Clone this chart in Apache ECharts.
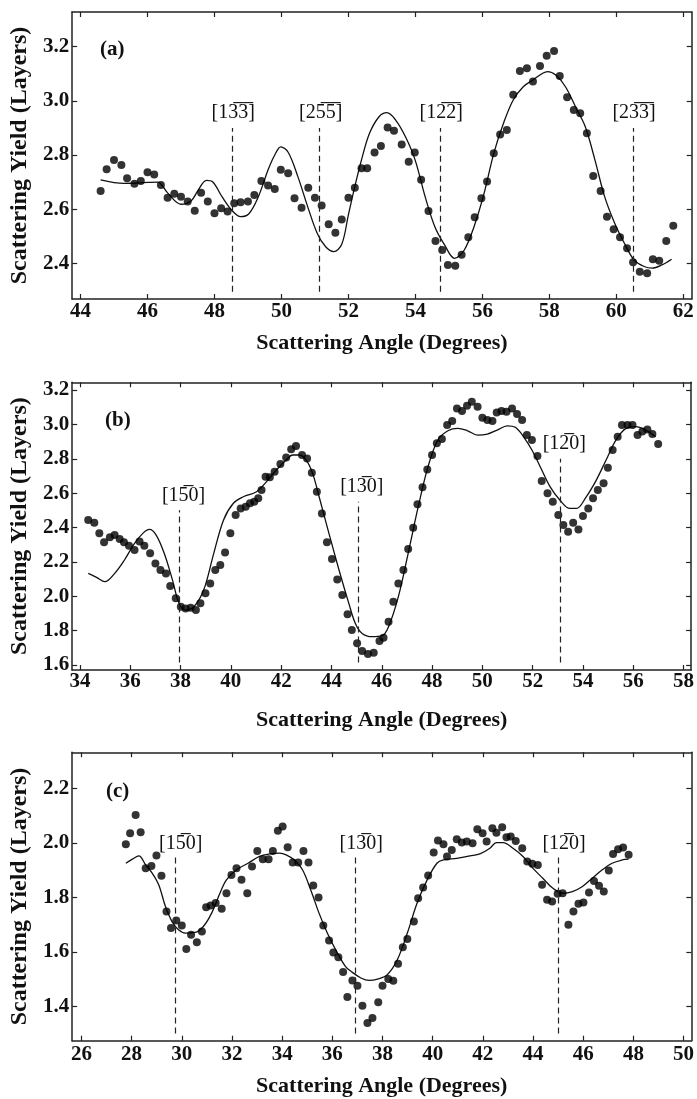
<!DOCTYPE html>
<html><head><meta charset="utf-8">
<script src="https://cdn.jsdelivr.net/npm/echarts@6/dist/echarts.min.js"></script>
<style>html,body{margin:0;padding:0;background:#fff}#c{width:697px;height:1099px}</style>
</head><body><div id="c"></div><script>
// ---------- DATA ----------
const xTitle = 'Scattering Angle (Degrees)';
const yTitle = 'Scattering Yield (Layers)';
const panelLabels = ['(a)', '(b)', '(c)'];

const aXTicks = [44,46,48,50,52,54,56,58,60,62];
const aYTicks = [2.4,2.6,2.8,3.0,3.2];
const bXTicks = [34,36,38,40,42,44,46,48,50,52,54,56,58];
const bYTicks = [1.6,1.8,2.0,2.2,2.4,2.6,2.8,3.0,3.2];
const cXTicks = [26,28,30,32,34,36,38,40,42,44,46,48,50];
const cYTicks = [1.4,1.6,1.8,2.0,2.2];

const aPoints = [[44.6,2.667],[44.78,2.747],[45.0,2.781],[45.22,2.763],[45.39,2.714],[45.61,2.694],[45.8,2.704],[46.0,2.736],[46.2,2.728],[46.4,2.689],[46.6,2.642],[46.8,2.657],[47.0,2.646],[47.2,2.628],[47.41,2.594],[47.6,2.66],[47.8,2.628],[48.0,2.585],[48.2,2.603],[48.39,2.591],[48.59,2.622],[48.78,2.625],[49.0,2.628],[49.19,2.652],[49.4,2.704],[49.6,2.687],[49.8,2.674],[49.98,2.745],[50.2,2.732],[50.39,2.64],[50.6,2.605],[50.8,2.679],[51.0,2.642],[51.2,2.613],[51.41,2.544],[51.61,2.513],[51.8,2.562],[52.0,2.642],[52.19,2.679],[52.39,2.751],[52.56,2.751],[52.78,2.809],[52.97,2.833],[53.17,2.901],[53.36,2.889],[53.59,2.839],[53.8,2.775],[53.98,2.809],[54.17,2.708],[54.39,2.593],[54.6,2.482],[54.8,2.449],[54.97,2.394],[55.19,2.391],[55.38,2.431],[55.58,2.496],[55.77,2.57],[55.97,2.64],[56.14,2.702],[56.34,2.806],[56.53,2.876],[56.73,2.892],[56.92,3.022],[57.12,3.11],[57.33,3.12],[57.51,3.071],[57.72,3.129],[57.92,3.166],[58.14,3.184],[58.31,3.092],[58.53,3.013],[58.73,2.966],[58.92,2.954],[59.12,2.88],[59.31,2.722],[59.53,2.667],[59.72,2.572],[59.92,2.526],[60.11,2.496],[60.32,2.455],[60.5,2.404],[60.7,2.369],[60.92,2.363],[61.09,2.415],[61.28,2.409],[61.49,2.482],[61.7,2.539]];
const aCurve = [[44.6,2.708],[45.3,2.695],[45.8,2.697],[46.3,2.7],[46.6,2.66],[47.0,2.618],[47.3,2.63],[47.5,2.667],[47.76,2.706],[47.95,2.70],[48.24,2.643],[48.53,2.594],[48.78,2.572],[49.02,2.582],[49.3,2.643],[49.61,2.748],[49.8,2.8],[49.98,2.83],[50.2,2.81],[50.49,2.72],[50.78,2.61],[51.07,2.51],[51.32,2.461],[51.56,2.443],[51.8,2.47],[52.0,2.58],[52.19,2.683],[52.39,2.782],[52.63,2.88],[52.92,2.942],[53.15,2.956],[53.41,2.929],[53.7,2.868],[53.99,2.782],[54.29,2.646],[54.58,2.535],[54.87,2.468],[55.17,2.418],[55.46,2.449],[55.75,2.535],[56.05,2.658],[56.34,2.806],[56.63,2.917],[56.92,3.003],[57.22,3.052],[57.51,3.077],[57.8,3.102],[57.95,3.108],[58.19,3.095],[58.48,3.052],[58.78,2.978],[59.07,2.905],[59.36,2.782],[59.65,2.646],[59.95,2.548],[60.24,2.474],[60.53,2.412],[60.83,2.388],[61.07,2.382],[61.36,2.394],[61.65,2.415]];
const aDirX = [48.53, 51.14, 54.74, 60.5];
const aDirTop = [2.9, 2.9, 2.9, 2.9];
const aDirBottom = 2.295;
const aDirLabels = ['[13\u03053\u0305]', '[25\u03055\u0305]', '[12\u03052\u0305]', '[23\u03053\u0305]'];

const bPoints = [[34.33,2.444],[34.57,2.428],[34.77,2.366],[34.96,2.314],[35.19,2.343],[35.38,2.356],[35.58,2.333],[35.75,2.314],[35.95,2.294],[36.17,2.269],[36.37,2.318],[36.56,2.294],[36.79,2.25],[37.0,2.191],[37.2,2.153],[37.42,2.133],[37.59,2.06],[37.81,1.988],[38.01,1.939],[38.2,1.929],[38.4,1.933],[38.61,1.92],[38.79,1.959],[38.99,2.017],[39.18,2.075],[39.38,2.153],[39.58,2.182],[39.77,2.254],[39.98,2.366],[40.19,2.473],[40.39,2.511],[40.59,2.521],[40.76,2.541],[40.93,2.55],[41.09,2.57],[41.22,2.618],[41.38,2.696],[41.55,2.692],[41.74,2.725],[41.97,2.769],[42.2,2.808],[42.4,2.855],[42.59,2.874],[42.83,2.822],[43.03,2.802],[43.22,2.719],[43.42,2.608],[43.62,2.482],[43.82,2.314],[44.02,2.217],[44.23,2.098],[44.43,2.007],[44.64,1.895],[44.81,1.804],[45.02,1.726],[45.22,1.681],[45.45,1.664],[45.68,1.672],[45.91,1.74],[46.07,1.759],[46.27,1.852],[46.46,1.968],[46.66,2.075],[46.86,2.153],[47.05,2.275],[47.25,2.399],[47.42,2.535],[47.62,2.634],[47.81,2.738],[48.0,2.822],[48.19,2.89],[48.39,2.915],[48.6,2.996],[48.8,3.02],[48.99,3.093],[49.19,3.078],[49.39,3.109],[49.58,3.132],[49.81,3.103],[50.0,3.039],[50.2,3.025],[50.4,3.02],[50.57,3.07],[50.76,3.078],[50.96,3.074],[51.18,3.093],[51.38,3.06],[51.58,3.025],[51.77,2.938],[51.97,2.909],[52.19,2.816],[52.36,2.67],[52.59,2.599],[52.8,2.55],[53.02,2.473],[53.22,2.415],[53.41,2.376],[53.61,2.428],[53.82,2.389],[54.0,2.467],[54.21,2.511],[54.4,2.57],[54.59,2.618],[54.82,2.657],[54.99,2.748],[55.18,2.851],[55.38,2.928],[55.55,2.996],[55.77,2.996],[55.97,2.996],[56.17,2.938],[56.36,2.958],[56.56,2.971],[56.76,2.944],[56.99,2.886]];
const bCurve = [[34.33,2.133],[34.66,2.11],[34.99,2.085],[35.38,2.133],[35.77,2.211],[36.17,2.308],[36.5,2.366],[36.76,2.389],[37.03,2.356],[37.35,2.25],[37.68,2.094],[37.94,1.959],[38.2,1.92],[38.53,1.939],[38.92,2.036],[39.32,2.25],[39.71,2.444],[40.1,2.541],[40.5,2.579],[41.02,2.608],[41.42,2.667],[41.81,2.735],[42.2,2.793],[42.46,2.822],[42.72,2.822],[42.99,2.793],[43.25,2.715],[43.51,2.579],[43.9,2.366],[44.3,2.153],[44.69,1.959],[44.95,1.842],[45.22,1.784],[45.61,1.765],[46.0,1.769],[46.27,1.823],[46.66,1.998],[47.05,2.25],[47.45,2.521],[47.84,2.754],[48.23,2.909],[48.63,2.963],[49.02,2.977],[49.41,2.963],[49.81,2.938],[50.2,2.944],[50.59,2.967],[50.99,2.992],[51.31,2.983],[51.64,2.928],[51.97,2.851],[52.3,2.754],[52.69,2.638],[53.08,2.56],[53.48,2.511],[53.74,2.511],[54.13,2.579],[54.53,2.676],[54.92,2.793],[55.31,2.909],[55.71,2.977],[56.1,2.987],[56.49,2.967],[56.89,2.928]];
const bDirX = [37.96, 45.05, 53.1];
const bDirTop = [2.5, 2.55, 2.8];
const bDirBottom = 1.615;
const bDirLabels = ['[15\u03050]', '[13\u03050]', '[12\u03050]'];

const cPoints = [[27.77,1.995],[27.94,2.035],[28.16,2.102],[28.36,2.039],[28.56,1.907],[28.79,1.915],[28.99,1.953],[29.19,1.879],[29.39,1.748],[29.57,1.687],[29.78,1.715],[30.0,1.697],[30.18,1.61],[30.37,1.663],[30.6,1.635],[30.8,1.675],[30.97,1.764],[31.15,1.77],[31.35,1.779],[31.59,1.758],[31.78,1.815],[31.98,1.882],[32.18,1.907],[32.38,1.864],[32.61,1.815],[32.8,1.913],[33.01,1.97],[33.23,1.94],[33.46,1.94],[33.63,1.97],[33.83,2.044],[34.02,2.06],[34.22,1.984],[34.42,1.928],[34.64,1.928],[34.85,1.97],[35.05,1.928],[35.24,1.843],[35.45,1.799],[35.64,1.697],[35.87,1.642],[36.04,1.598],[36.24,1.58],[36.43,1.526],[36.6,1.434],[36.8,1.495],[37.0,1.476],[37.2,1.402],[37.4,1.339],[37.6,1.357],[37.83,1.415],[38.0,1.476],[38.23,1.5],[38.43,1.494],[38.62,1.556],[38.81,1.617],[38.99,1.647],[39.25,1.711],[39.42,1.797],[39.62,1.836],[39.82,1.88],[40.04,1.964],[40.21,2.008],[40.43,1.995],[40.57,1.95],[40.76,1.974],[40.96,2.013],[41.16,2.001],[41.36,2.005],[41.59,1.998],[41.78,2.05],[41.99,2.035],[42.15,2.005],[42.38,2.053],[42.54,2.037],[42.77,2.057],[42.94,2.02],[43.11,2.023],[43.31,2.007],[43.57,1.98],[43.77,1.931],[43.97,1.923],[44.19,1.919],[44.36,1.846],[44.56,1.791],[44.76,1.785],[44.98,1.813],[45.18,1.815],[45.41,1.699],[45.61,1.748],[45.81,1.776],[46.01,1.781],[46.23,1.818],[46.43,1.86],[46.63,1.842],[46.82,1.821],[47.02,1.898],[47.19,1.959],[47.39,1.976],[47.59,1.983],[47.81,1.956]];
const cCurve = [[27.77,1.925],[28.03,1.94],[28.29,1.952],[28.56,1.919],[28.82,1.889],[29.08,1.846],[29.35,1.766],[29.61,1.711],[29.87,1.681],[30.14,1.669],[30.53,1.671],[30.86,1.693],[31.19,1.742],[31.52,1.815],[31.78,1.864],[32.18,1.901],[32.64,1.925],[33.1,1.95],[33.5,1.959],[33.89,1.962],[34.16,1.956],[34.48,1.937],[34.81,1.901],[35.14,1.827],[35.47,1.742],[35.8,1.669],[36.13,1.608],[36.52,1.547],[36.75,1.528],[37.14,1.504],[37.47,1.495],[37.8,1.5],[38.19,1.516],[38.59,1.571],[38.99,1.669],[39.38,1.779],[39.78,1.864],[40.17,1.925],[40.43,1.937],[40.96,1.943],[41.49,1.952],[41.88,1.959],[42.28,1.98],[42.54,2.001],[42.81,2.001],[43.2,1.98],[43.6,1.95],[43.99,1.907],[44.39,1.87],[44.78,1.834],[45.18,1.815],[45.57,1.821],[45.97,1.84],[46.36,1.87],[46.76,1.901],[47.15,1.925],[47.55,1.937],[47.81,1.94]];
const cDirX = [29.72, 36.91, 45.0];
const cDirTop = [1.956, 1.956, 1.956];
const cDirBottom = 1.30;
const cDirLabels = ['[15\u03050]', '[13\u03050]', '[12\u03050]'];

// ---------- LAYOUT / STYLE ----------
const FONT = '"Liberation Serif", "Times New Roman", serif';
const INK = '#111';
const panels = [
  { points: aPoints, curve: aCurve, xTicks: aXTicks, yTicks: aYTicks, dirX: aDirX, dirTop: aDirTop, dirBottom: aDirBottom, dirLabels: aDirLabels,
    grid: { left: 63.3, top: 12, width: 628.4, height: 287 }, xMin: 43.75, xMax: 62.25, yMin: 2.268, yMax: 3.328,
    xLabelMargin: 2, xNameGap: 33, yNameGap: 26, lab: [100, 50], dirDist: 5, dirOff: 1 },
  { points: bPoints, curve: bCurve, xTicks: bXTicks, yTicks: bYTicks, dirX: bDirX, dirTop: bDirTop, dirBottom: bDirBottom, dirLabels: bDirLabels,
    grid: { left: 66, top: 382.3, width: 627.3, height: 287.7 }, xMin: 33.69, xMax: 58.3, yMin: 1.571, yMax: 3.245,
    xLabelMargin: 1, xNameGap: 39, yNameGap: 29, lab: [105, 421], dirDist: 5, dirOff: 4 },
  { points: cPoints, curve: cCurve, xTicks: cXTicks, yTicks: cYTicks, dirX: cDirX, dirTop: cDirTop, dirBottom: cDirBottom, dirLabels: cDirLabels,
    grid: { left: 66.7, top: 752.3, width: 627.3, height: 288.4 }, xMin: 25.63, xMax: 50.31, yMin: 1.274, yMax: 2.332,
    xLabelMargin: 3, xNameGap: 35, yNameGap: 30, lab: [106, 792], dirDist: 1, dirOff: 6 }
];

const axisLine = { onZero: false, lineStyle: { color: '#222', width: 1.5 } };
const tickStyle = { color: '#222', width: 1.2 };
const labelFont = { fontFamily: FONT, fontWeight: 'bold', fontSize: 21, color: INK };
const xNameFont = { fontFamily: FONT, fontWeight: 'bold', fontSize: 22, color: INK };
const yNameFont = { fontFamily: FONT, fontWeight: 'bold', fontSize: 24, color: INK };

const grids = [], xAxes = [], yAxes = [], series = [], graphics = [];
panels.forEach((p, i) => {
  grids.push(Object.assign({ containLabel: false }, p.grid));
  xAxes.push({ gridIndex: i, type: 'value', position: 'bottom', min: p.xMin, max: p.xMax,
    name: xTitle, nameLocation: 'middle', nameGap: p.xNameGap, nameTextStyle: xNameFont,
    axisLine, splitLine: { show: false },
    axisTick: { inside: true, length: 5, customValues: p.xTicks, lineStyle: tickStyle },
    axisLabel: Object.assign({ customValues: p.xTicks, margin: p.xLabelMargin, formatter: v => String(Math.round(v)) }, labelFont) });
  xAxes.push({ gridIndex: i, type: 'value', position: 'top', min: p.xMin, max: p.xMax,
    axisLine, splitLine: { show: false },
    axisTick: { inside: true, length: 5, customValues: p.xTicks, lineStyle: tickStyle },
    axisLabel: { show: false } });
  yAxes.push({ gridIndex: i, type: 'value', position: 'left', min: p.yMin, max: p.yMax,
    name: yTitle, nameLocation: 'middle', nameGap: p.yNameGap, nameTextStyle: yNameFont,
    axisLine, splitLine: { show: false },
    axisTick: { inside: true, length: 5, customValues: p.yTicks, lineStyle: tickStyle },
    axisLabel: Object.assign({ customValues: p.yTicks, margin: 3, formatter: v => v.toFixed(1) }, labelFont) });
  yAxes.push({ gridIndex: i, type: 'value', position: 'right', min: p.yMin, max: p.yMax,
    axisLine, splitLine: { show: false },
    axisTick: { inside: true, length: 5, customValues: p.yTicks, lineStyle: tickStyle },
    axisLabel: { show: false } });

  series.push({ type: 'line', xAxisIndex: 2 * i, yAxisIndex: 2 * i, data: p.curve, smooth: 0.35,
    showSymbol: false, symbol: 'none', lineStyle: { color: INK, width: 1.3 }, z: 3, silent: true });
  series.push({ type: 'scatter', xAxisIndex: 2 * i, yAxisIndex: 2 * i, data: p.points,
    symbol: 'circle', symbolSize: 8, itemStyle: { color: '#000' }, z: 4, silent: true,
    markLine: {
      silent: true, symbol: ['none', 'none'], animation: false,
      lineStyle: { color: '#222', width: 1.2, type: [6, 4] },
      data: p.dirX.map((x, k) => [
        { coord: [x, p.dirBottom] },
        { coord: [x, p.dirTop[k]], label: { show: true, position: 'end', distance: p.dirDist, offset: [p.dirOff, 0],
            formatter: p.dirLabels[k], fontFamily: FONT, fontSize: 20, fontWeight: 'normal', color: INK } }
      ])
    } });

  graphics.push({ type: 'text', x: p.lab[0], y: p.lab[1],
    style: { text: panelLabels[i], font: 'bold 21px ' + FONT, fill: INK, verticalAlign: 'middle', align: 'left' } });
});

const chart = echarts.init(document.getElementById('c'), null, { renderer: 'canvas' });
chart.setOption({
  animation: false,
  backgroundColor: '#fff',
  grid: grids, xAxis: xAxes, yAxis: yAxes, series, graphic: graphics
});
</script></body></html>
